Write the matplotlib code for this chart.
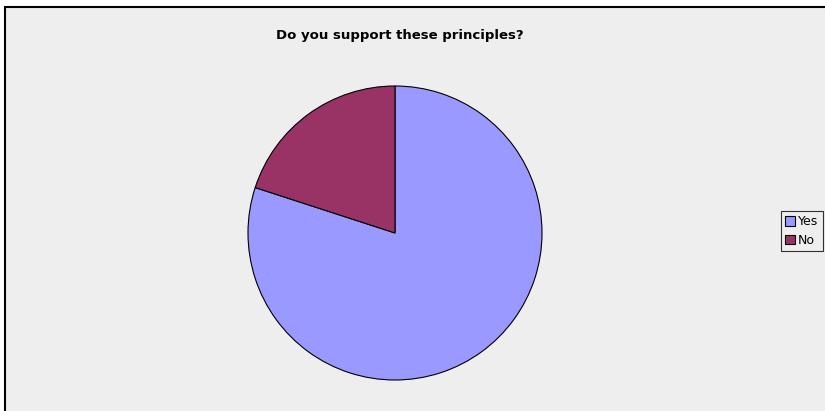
import matplotlib.pyplot as plt
from matplotlib.patches import Rectangle

# Survey answers
labels = ['Yes', 'No']
shares = [80, 20]
colors = ['#9999FF', '#993366']

fig = plt.figure(figsize=(8.25, 4.11), dpi=100)
fig.patch.set_facecolor('white')

# chart area background with black border (runs off right/bottom edge)
bg = Rectangle((5 / 825, -0.05), 1.0, 1 - 7 / 411 + 0.05,
               transform=fig.transFigure, facecolor='#EEEEEE',
               edgecolor='black', linewidth=1.5, zorder=-1)
fig.patches.append(bg)

ax = fig.add_axes([248 / 825, 31 / 411, 294 / 825, 294 / 411])
ax.set_zorder(2)
wedges, _ = ax.pie(shares, colors=colors, startangle=90, counterclock=False,
                   wedgeprops=dict(edgecolor='black', linewidth=0.8))
ax.set_xlim(-1, 1)
ax.set_ylim(-1, 1)
ax.set_aspect('equal')
ax.axis('off')

fig.text(400 / 825, 1 - 36 / 411, 'Do you support these principles?',
         ha='center', va='center', fontsize=9.5, fontweight='bold')

leg = fig.legend(wedges, labels, loc='center left',
                 bbox_to_anchor=(781 / 825, 1 - 231 / 411),
                 frameon=True, fancybox=False, fontsize=9,
                 handlelength=0.8, handleheight=0.8, handletextpad=0.2,
                 borderpad=0.35, labelspacing=0.45, borderaxespad=0)
leg.set_zorder(3)
leg.get_frame().set_edgecolor('black')
leg.get_frame().set_facecolor('#EEEEEE')
leg.get_frame().set_linewidth(0.8)
for h in leg.legend_handles:
    h.set_edgecolor('black')
    h.set_linewidth(0.8)

fig.savefig('out.png', dpi=100)
